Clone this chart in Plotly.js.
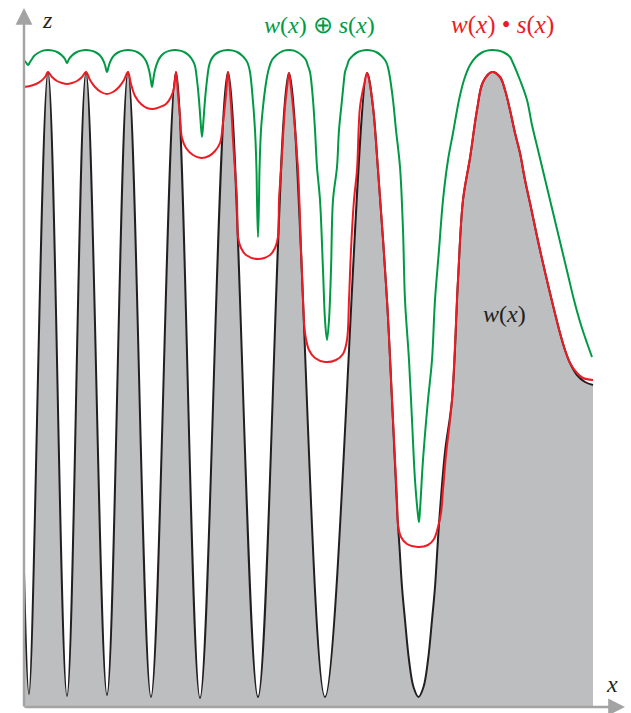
<!DOCTYPE html>
<html>
<head>
<meta charset="utf-8">
<script src="https://cdn.plot.ly/plotly-3.0.1.min.js"></script>
<style>html,body{margin:0;padding:0;background:#fff;}#chart{width:631px;height:713px;}</style>
</head>
<body>
<div id="chart"></div>
<script>
// Signal w(x)
const wX = [0,5,24,43,62,83,104,127,152,176,204,234,265,301,343,349,354,363,368,373.5,375.5,378,381,385,389.5,394.5,399.5,404,408,411,413.5,415.5,421,428,434,439,446,453,459,468,476,481,486,491,496,501,506,516,526,536,541,546,553,561,569];
const wZ = [136,14,636,12,636,13,636,11,636,10,636,11,635,11,635,601,538,408,308,191,161,121,88,48,21,11,21,48,88,121,161,191,256,308,428,508,550,598,626,636,631,618,598,575,555,528,505,458,415,375,358,345,333,326,323];

// Closing w(x) • s(x)
const cX = [0,6,12,17,21,24,28,33,38,43,48,53,58,62,66,71,77,83,89,95,100,104,107,111,117,123,129,136,142,147,150,152,154,156,158,162,169,177,185,191,196,199,202,204,207,209,211,213,214,217,222,234,246,251,254,255,257,261,263,265,267,269,274,277,279,281,285,291,301,312,319,323,325,327,330,333,336,340,343,346,349,354,363,368,373,374,377,383,394,404,410,414,417,419,422,428,434,439,446,453,459,468,476,481,486,491,496,501,506,516,526,536,541,546,553,559,569];
const cZ = [621,622,624,627,631,636,631,627,625,624,625,627,631,636,628,621,616,614,616,621,628,636,624,612,604,600,599,601,604,611,620,636,613,591,570,560,553,550,552,557,565,585,613,636,603,568,538,508,471,460,453,449,453,460,471,508,538,601,620,635,620,601,538,458,408,375,358,350,346,348,354,368,408,458,508,538,601,623,635,623,601,538,408,308,208,183,171,164,161,163,169,181,195,218,253,308,428,508,550,598,626,636,631,618,598,575,555,528,505,458,415,375,358,345,335,330,328];

// Dilation w(x) ⊕ s(x)
const dX = [0,2,4,6,8,10,14,19,24,29,34,38,41,43,45,48,52,57,62,67,72,76,79,81,83,85,87,90,94,99,104,109,114,118,122,125,126.5,128,129.5,131,134,137,141,146,151,156,161,165,169,171,173,175,176.5,178,179.5,181,183,185,187,190,194,199,204,209,214,218,222,224,226,228,231,232.5,233,234,235,235.5,237,239,241,243,245,248,252,256,260,265,270,274,278,282,284,286,289,291,293,296,299,301,303,305,307,309,313,315,318,320,321,323,325,329,333,338,343,348,353,357,361,363,365,369,372,376,379,381,385,388,391,394,395,396,399,404,408,411,415,419,424,429,435,440,446,452,458,463,468,474,480,486,489,496,503,508,514,520,526,532,538,544,550,557,563,568];
const dZ = [648,645.5,643,646,649,652,655,657.4,658,657.4,655.5,652.5,649,645,649,652.5,655.5,657.4,658,657.4,655.5,652.5,648,643,636,643,648,652.5,655.5,657.4,658,657.4,655.5,652.5,647,638,630,621,630,638,647,652,655.5,657.4,658,657.4,655.5,652.5,647,642,628,608,588,571,588,608,628,642,648,652.5,655.5,657.4,658,657.4,655.5,652.5,648,644,636,618,578,538,508,471,508,538,578,601,618,631,640,648,652.5,655.5,657.4,658,657.4,655.5,652.5,648,642,636,608,578,541,508,438,388,368,388,438,508,541,578,608,628,636,642,648,652.5,655.5,657.4,658,657.4,655.5,652.5,648,644,636,608,578,541,478,408,348,288,228,193,186,198,248,308,348,408,458,508,548,575,608,628,643,651,655.5,657.4,658,657.4,655.5,651,645,628,608,583,558,533,508,483,458,433,408,383,365,351];

const labelTexts = {
  z: '<i>z</i>',
  x: '<i>x</i>',
  dil: '<i>w</i>(<i>x</i>) ⊕ <i>s</i>(<i>x</i>)',
  clo: '<i>w</i>(<i>x</i>) • <i>s</i>(<i>x</i>)',
  w: '<i>w</i>(<i>x</i>)'
};

const GREEN = '#009a44', RED = '#ed1c24', BLACK = '#231f20', GRAY = '#bcbec0', AXIS = '#a3a3a3';
const serif = 'Liberation Serif, Times New Roman, serif';

const traces = [
  {x: wX, y: wZ, mode: 'lines', line: {color: BLACK, width: 2, shape: 'spline', smoothing: 1},
   fill: 'tozeroy', fillcolor: GRAY, hoverinfo: 'skip'},
  {x: dX, y: dZ, mode: 'lines', line: {color: GREEN, width: 2, shape: 'spline', smoothing: 1}, hoverinfo: 'skip'},
  {x: cX, y: cZ, mode: 'lines', line: {color: RED, width: 2, shape: 'spline', smoothing: 1}, hoverinfo: 'skip'}
];

const layout = {
  width: 631, height: 713,
  margin: {l: 0, r: 0, t: 0, b: 0},
  paper_bgcolor: '#fff', plot_bgcolor: 'rgba(0,0,0,0)',
  showlegend: false,
  xaxis: {range: [-24, 607], visible: false, fixedrange: true},
  yaxis: {range: [-5, 708], visible: false, fixedrange: true},
  annotations: [
    {x: 0, y: 700, ax: 0, ay: 0, xref: 'x', yref: 'y', axref: 'x', ayref: 'y', showarrow: true,
     arrowhead: 2, arrowsize: 1.4, arrowwidth: 2.4, arrowcolor: AXIS, text: ''},
    {x: 601, y: 1, ax: 0, ay: 1, xref: 'x', yref: 'y', axref: 'x', ayref: 'y', showarrow: true,
     arrowhead: 2, arrowsize: 1.4, arrowwidth: 2.4, arrowcolor: AXIS, text: ''},
    {x: 23, y: 688, text: labelTexts.z, showarrow: false, font: {family: serif, size: 24, color: BLACK}},
    {x: 588, y: 24, text: labelTexts.x, showarrow: false, font: {family: serif, size: 24, color: BLACK}},
    {x: 295, y: 683, text: labelTexts.dil, showarrow: false, font: {family: serif, size: 24, color: GREEN}},
    {x: 478, y: 683, text: labelTexts.clo, showarrow: false, font: {family: serif, size: 25, color: RED}},
    {x: 480, y: 394, text: labelTexts.w, showarrow: false, font: {family: serif, size: 24, color: BLACK}}
  ]
};

Plotly.newPlot('chart', traces, layout, {staticPlot: true, displayModeBar: false});
</script>
</body>
</html>
